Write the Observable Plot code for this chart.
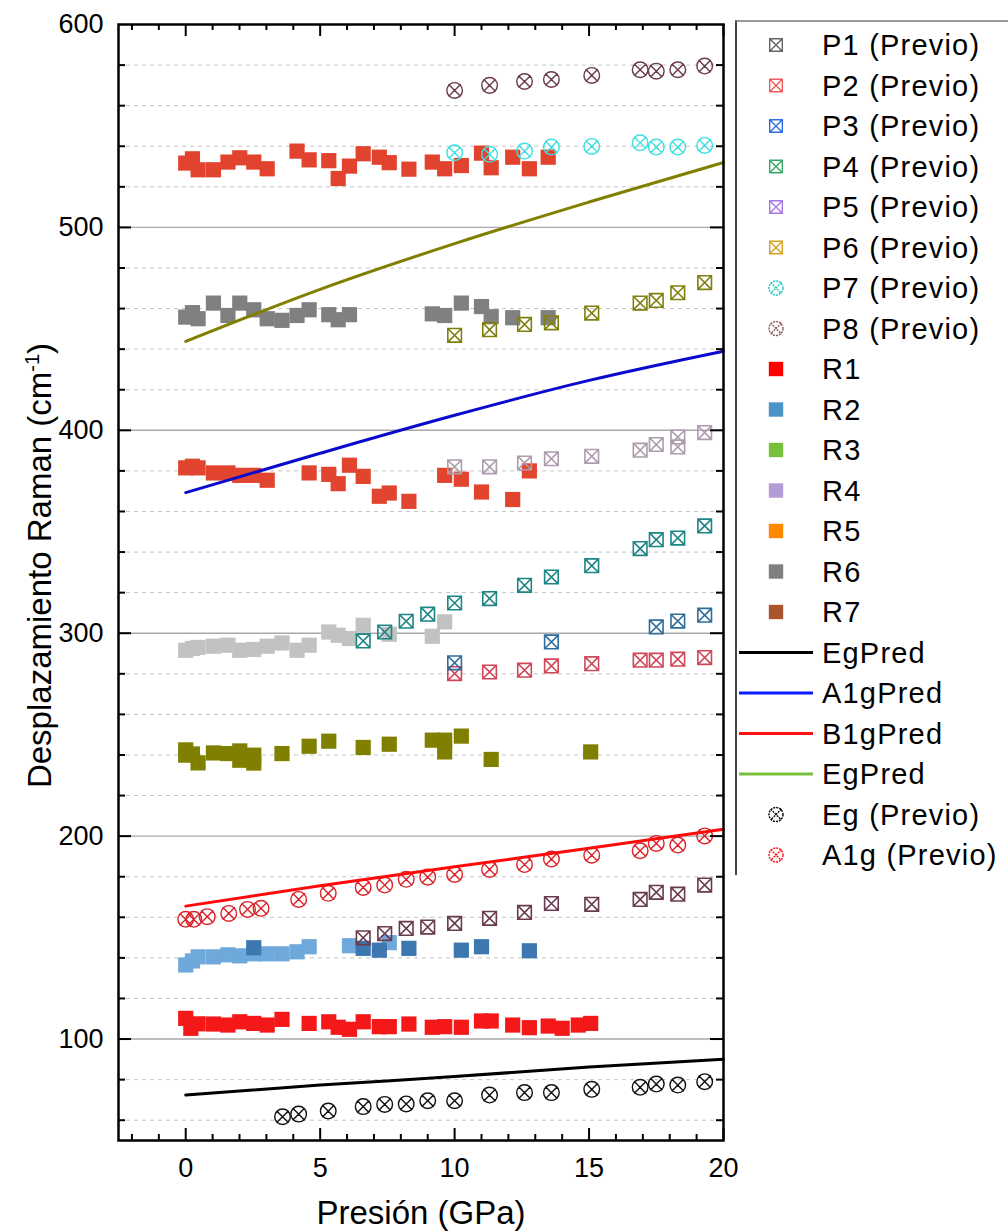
<!DOCTYPE html>
<html>
<head>
<meta charset="utf-8">
<script src="https://cdn.jsdelivr.net/npm/d3@7"></script>
<script src="https://cdn.jsdelivr.net/npm/@observablehq/plot@0.6"></script>
<style>
  body { margin: 0; background: #fff; }
  #chart { position: relative; width: 1008px; height: 1232px; background: #fff; }
</style>
</head>
<body>
<div id="chart"></div>
<script>
// ---------- axes ----------
const xDomain = [-2.5, 20];
const yDomain = [50, 600];
const xTickValues = [0, 5, 10, 15, 20];
const xMinorTicks = [-2, -1, 1, 2, 3, 4, 6, 7, 8, 9, 11, 12, 13, 14, 16, 17, 18, 19];
const yTickValues = [100, 200, 300, 400, 500, 600];
const yMajorGrid = [100, 200, 300, 400, 500];
const yMinorTicks = [60, 80, 120, 140, 160, 180, 220, 240, 260, 280, 320, 340, 360, 380, 420, 440, 460, 480, 520, 540, 560, 580];
const xTitle = "Presión (GPa)";
const yTitle = "Desplazamiento Raman (cm-1)";

// ---------- measured modes (filled squares) ----------
const r1P = [0, 0.19, 0.46, 1.03, 1.57, 2.01, 2.53, 3.03, 3.58, 4.59, 5.32, 5.67, 6.09, 6.6, 7.2, 7.57, 8.3, 9.17, 9.63, 10.25, 11.0, 11.36, 12.16, 12.78, 13.48, 14.0, 14.6, 15.06];
const r1V = [110.2, 105.3, 107.5, 107.4, 106.9, 108.5, 107.7, 106.9, 109.7, 107.7, 108.5, 105.8, 104.8, 108.5, 106.1, 106.1, 107.4, 105.8, 106.1, 105.8, 108.9, 108.9, 106.9, 105.6, 106.4, 105.3, 106.9, 107.7];

const r2P = [0, 0.25, 0.46, 1.03, 1.57, 2.01, 2.53, 3.03, 3.58, 4.14, 4.59, 6.09, 7.57];
const r2V = [136.5, 138.5, 140.5, 140.5, 141.5, 141, 142, 142, 142, 143, 145.5, 146, 147.5];

const r2bP = [2.53, 6.6, 7.2, 8.3, 10.25, 11.0, 12.78];
const r2bV = [145, 144.7, 143.8, 144.7, 143.8, 145.5, 143.5];

const r3P = [0, 0, 0.25, 0.46, 1.03, 1.57, 2.01, 2.01, 2.53, 2.53, 3.58, 4.59, 5.32, 6.6, 7.57, 9.17, 9.63, 9.63, 10.25, 11.36, 15.06];
const r3V = [239.9, 242.5, 240.5, 236.1, 241, 240.7, 237.4, 242, 239.9, 236, 240.7, 244.3, 246.8, 243.7, 245.3, 247.3, 247.3, 241.5, 249.3, 237.8, 241.5];

const r4P = [0, 0.25, 0.46, 1.03, 1.57, 2.01, 2.53, 3.03, 3.58, 4.14, 4.59, 5.32, 5.67, 6.09, 6.6, 7.57, 9.17, 9.63];
const r4V = [291.6, 292.5, 293, 293.6, 294.1, 291.6, 292, 293.6, 295.2, 291.6, 294.1, 300.6, 299, 297.4, 303.9, 299.5, 298.5, 305.6];

const r5P = [0, 0.25, 0.46, 1.03, 1.57, 2.01, 2.53, 3.03, 4.59, 5.32, 5.67, 6.09, 6.6, 7.2, 7.57, 8.3, 9.63, 10.25, 11.0, 12.16, 12.78];
const r5V = [381.5, 382.3, 381.5, 379, 379, 377.8, 377.8, 375.4, 379, 378.3, 373.7, 382.8, 377.3, 367.5, 369.1, 365, 377.8, 375.9, 369.6, 365.9, 380];

const r6P = [0, 0.25, 0.46, 1.03, 1.57, 2.01, 2.53, 3.03, 3.58, 4.14, 4.59, 5.32, 5.67, 6.09, 9.17, 9.63, 10.25, 11.0, 11.36, 12.16, 13.48];
const r6V = [455.8, 458, 455, 462.7, 456.6, 462.7, 459.4, 455, 454.2, 456.6, 459.4, 457, 454.5, 457, 457.4, 456.6, 462.7, 461, 456, 455.5, 455.5];

const r7P = [0, 0.25, 0.46, 1.03, 1.57, 2.01, 2.53, 3.03, 4.14, 4.59, 5.32, 5.67, 6.09, 6.6, 7.2, 7.57, 8.3, 9.17, 9.63, 10.25, 11.0, 11.36, 12.16, 12.78, 13.48];
const r7V = [531.7, 533.8, 528.4, 528.4, 532.2, 534.3, 532.2, 528.9, 537.6, 533.3, 532.9, 524.1, 530.2, 536.3, 534.6, 531.9, 528.7, 532.2, 528.9, 530.5, 536.6, 529.4, 534.6, 528.9, 534.6];

// ---------- literature modes (open symbols) ----------
const prevP = [10.0, 11.3, 12.6, 13.6, 15.1, 16.9, 17.5, 18.3, 19.3];
const prevLongP = [6.6, 7.4, 8.2, 9.0, 10.0, 11.3, 12.6, 13.6, 15.1, 16.9, 17.5, 18.3, 19.3];

const p1P = [10.0, 11.3, 12.6, 13.6, 15.1, 16.9, 17.5, 18.3, 18.3, 19.3];
const p1V = [382, 382, 383.9, 386, 387.2, 390.2, 393, 396.7, 391.8, 398.9];
const p2V = [280.1, 280.9, 281.8, 283.9, 285, 286.7, 286.7, 287.2, 288];
const p3P = [10.0, 13.6, 17.5, 18.3, 19.3];
const p3V = [285.4, 295.7, 303.1, 306, 308.9];
const p4V = [296.2, 300.6, 305.9, 309.4, 314.9, 317.1, 323.6, 327.7, 333.3, 341.7, 346.1, 346.9, 352.9];
const p5V = [149.9, 152, 154.5, 155.2, 157, 159.5, 162.4, 166.8, 166.4, 168.8, 172.3, 171.4, 175.9];
const p6V = [446.8, 449.6, 452.2, 453, 457.8, 462.7, 464, 467.8, 472.8];
const p7V = [536.8, 536, 537.6, 539.6, 539.9, 541.7, 539.6, 539.6, 540.4];
const p8V = [567.5, 570, 571.9, 572.9, 574.9, 577.7, 577, 577.7, 579.5];

const egP = [3.6, 4.2, 5.3, 6.6, 7.4, 8.2, 9.0, 10.0, 11.3, 12.6, 13.6, 15.1, 16.9, 17.5, 18.3, 19.3];
const egV = [61.7, 63, 64.5, 66.7, 67.8, 68, 69.6, 69.6, 72.4, 73.6, 73.6, 75.2, 76.2, 77.8, 77.3, 79];
const a1gP = [0, 0.3, 0.8, 1.6, 2.3, 2.8, 4.2, 5.3, 6.6, 7.4, 8.2, 9.0, 10.0, 11.3, 12.6, 13.6, 15.1, 16.9, 17.5, 18.3, 19.3];
const a1gV = [159, 159, 160.3, 161.9, 163.9, 164.4, 168.8, 171.8, 174.7, 175.9, 178.7, 179.8, 181.1, 183.6, 186, 188.7, 190.6, 192.8, 196.4, 195.6, 200.1];

// ---------- predicted curves ----------
const predP = [0, 5, 10, 15, 20];
const egPredV = [72.4, 77.3, 81.5, 86.2, 90];
const a1gPredV = [369.3, 388.7, 407.4, 424.6, 439];
const b1gPredV = [165.5, 175.5, 184.9, 194, 203.4];
const eg2PredV = [443.8, 469.5, 492, 512.5, 532];

// ---------- legend ----------
const legendLabels = ["P1 (Previo)", "P2 (Previo)", "P3 (Previo)", "P4 (Previo)", "P5 (Previo)", "P6 (Previo)", "P7 (Previo)", "P8 (Previo)",
  "R1", "R2", "R3", "R4", "R5", "R6", "R7", "EgPred", "A1gPred", "B1gPred", "EgPred", "Eg (Previo)", "A1g (Previo)"];
const legendKinds = ["box", "box", "box", "box", "box", "box", "circ", "circ",
  "sq", "sq", "sq", "sq", "sq", "sq", "sq", "line", "line", "line", "line", "circ", "circ"];
const legendColors = ["#666666", "#f25a5a", "#2f6fe6", "#3aa86a", "#a877e6", "#d2a022", "#18c6c6", "#8a5858",
  "#ff0000", "#4a94c8", "#79c03a", "#b49ad6", "#ff8a00", "#808080", "#a8552e", "#000000", "#0a1cff", "#ff1010", "#79c03a", "#000000", "#ff1010"];

// ---------- symbols ----------
const half = size => Math.sqrt(size / Math.PI);
const squareSym = { draw(ctx, size) { const h = half(size); ctx.rect(-h, -h, 2 * h, 2 * h); } };
const boxXSym = { draw(ctx, size) {
  const h = half(size);
  ctx.rect(-h, -h, 2 * h, 2 * h);
  ctx.moveTo(-h, -h); ctx.lineTo(h, h);
  ctx.moveTo(h, -h); ctx.lineTo(-h, h);
} };
const circleXSym = { draw(ctx, size) {
  const h = half(size), k = h * 0.78;
  ctx.moveTo(h, 0); ctx.arc(0, 0, h, 0, 2 * Math.PI);
  ctx.moveTo(-k, -k); ctx.lineTo(k, k);
  ctx.moveTo(k, -k); ctx.lineTo(-k, k);
} };

const rows = (ps, vs) => ps.map((p, i) => ({ p, v: vs[i] }));

const squares = (ps, vs, color) => Plot.dot(rows(ps, vs), { x: "p", y: "v", symbol: squareSym, r: 7.6, fill: color, stroke: "none" });
const boxes = (ps, vs, color) => Plot.dot(rows(ps, vs), { x: "p", y: "v", symbol: boxXSym, r: 6.8, fill: "none", stroke: color, strokeWidth: 1.6 });
const circles = (ps, vs, color) => Plot.dot(rows(ps, vs), { x: "p", y: "v", symbol: circleXSym, r: 7.8, fill: "none", stroke: color, strokeWidth: 1.4 });
const curve = (vs, color) => Plot.line(rows(predP, vs), { x: "p", y: "v", stroke: color, strokeWidth: 3, curve: "monotone-x" });

const mLeft = 118, mRight = 285, mTop = 24, mBottom = 92;
const W = 1008, H = 1232;
const frameW = W - mLeft - mRight, frameH = H - mTop - mBottom;

const fontFamily = "'Liberation Sans', Arial, Helvetica, sans-serif";

const chart = Plot.plot({
  width: W,
  height: H,
  marginLeft: mLeft,
  marginRight: mRight,
  marginTop: mTop,
  marginBottom: mBottom,
  x: { domain: xDomain },
  y: { domain: yDomain },
  style: { fontFamily, fontSize: "27px", color: "black", background: "white", overflow: "visible" },
  marks: [
    // grid
    Plot.ruleY(yMinorTicks, { stroke: "#c4c4c4", strokeWidth: 1, strokeDasharray: "4,4" }),
    Plot.ruleY(yMajorGrid, { stroke: "#a9a9a9", strokeWidth: 1.4 }),

    // measured modes
    squares(r1P, r1V, "#f41818"),
    squares(r2P, r2V, "#6fa8da"),
    squares(r2bP, r2bV, "#3d77af"),
    squares(r3P, r3V, "#808000"),
    squares(r4P, r4V, "#c2c2c2"),
    squares(r5P, r5V, "#e2452f"),
    squares(r6P, r6V, "#808080"),
    squares(r7P, r7V, "#e2432e"),

    // literature modes
    boxes(p1P, p1V, "#ac9cac"),
    boxes(prevP, p2V, "#d04858"),
    boxes(p3P, p3V, "#2f6e9c"),
    boxes(prevLongP, p4V, "#1d8585"),
    boxes(prevLongP, p5V, "#6a3a4e"),
    boxes(prevP, p6V, "#808010"),
    circles(prevP, p7V, "#3ee0e0"),
    circles(prevP, p8V, "#6a3a4e"),
    circles(egP, egV, "#111111"),
    circles(a1gP, a1gV, "#dc2228"),

    // predicted curves
    curve(egPredV, "#000000"),
    curve(a1gPredV, "#0a0acc"),
    curve(b1gPredV, "#ff0a0a"),
    curve(eg2PredV, "#808000"),

    // frame and inward ticks
    Plot.frame({ stroke: "black", strokeWidth: 2.5 }),
    Plot.tickX(xTickValues, { x: d => d, insetTop: frameH - 12, stroke: "black", strokeWidth: 2 }),
    Plot.tickX(xMinorTicks, { x: d => d, insetTop: frameH - 6, stroke: "black", strokeWidth: 2 }),
    Plot.tickX(xTickValues, { x: d => d, insetBottom: frameH - 12, stroke: "black", strokeWidth: 2 }),
    Plot.tickX(xMinorTicks, { x: d => d, insetBottom: frameH - 6, stroke: "black", strokeWidth: 2 }),
    Plot.tickY(yMajorGrid, { y: d => d, insetRight: frameW - 13, stroke: "black", strokeWidth: 2 }),
    Plot.tickY(yMinorTicks, { y: d => d, insetRight: frameW - 7, stroke: "black", strokeWidth: 2 }),
    Plot.tickY(yMajorGrid, { y: d => d, insetLeft: frameW - 13, stroke: "black", strokeWidth: 2 }),
    Plot.tickY(yMinorTicks, { y: d => d, insetLeft: frameW - 7, stroke: "black", strokeWidth: 2 }),

    // tick labels
    Plot.axisX(xTickValues, { anchor: "bottom", tickSize: 0, tickPadding: 17, label: null, fontSize: 27 }),
    Plot.axisY(yTickValues, { anchor: "left", tickSize: 0, tickPadding: 15, label: null, fontSize: 27 }),

    // axis titles
    Plot.text([xTitle], { frameAnchor: "bottom", textAnchor: "middle", lineAnchor: "middle", dy: 73, fontSize: 33, text: d => d }),
    Plot.text([yTitle], { frameAnchor: "left", textAnchor: "middle", lineAnchor: "middle", dx: -78, dy: -17, rotate: -90, fontSize: 33, text: d => d })
  ]
});

// superscript exponent in the y title
d3.select(chart).selectAll("text")
  .filter(function () { return this.textContent === yTitle; })
  .each(function () {
    const t = d3.select(this);
    t.text(null);
    t.append("tspan").text("Desplazamiento Raman (cm");
    t.append("tspan").attr("font-size", "20px").attr("dy", "-12").text("-1");
    t.append("tspan").attr("dy", "12").text(")");
  });

const container = document.getElementById("chart");
container.appendChild(chart);

// legend panel on the right
const legW = W - 735, legH = 855;
const leg = d3.create("svg")
  .attr("width", legW)
  .attr("height", legH)
  .style("position", "absolute")
  .style("left", "735px")
  .style("top", "20px")
  .style("font-family", fontFamily);

leg.append("line").attr("x1", 1).attr("x2", 1).attr("y1", 0).attr("y2", legH).attr("stroke", "#444").attr("stroke-width", 2);
leg.append("line").attr("x1", 0).attr("x2", legW).attr("y1", 1).attr("y2", 1).attr("stroke", "#777").attr("stroke-width", 1.5);

const symPath = (sym, r) => d3.symbol(sym, Math.PI * r * r)();

legendLabels.forEach((label, i) => {
  const cy = 25 + i * 40.5;
  const color = legendColors[i];
  const kind = legendKinds[i];
  const g = leg.append("g").attr("transform", `translate(0,${cy})`);
  if (kind === "line") {
    g.append("line").attr("x1", 4).attr("x2", 78).attr("y1", 0).attr("y2", 0).attr("stroke", color).attr("stroke-width", 3);
  } else if (kind === "sq") {
    g.append("path").attr("transform", "translate(41,0)").attr("d", symPath(squareSym, 7.2)).attr("fill", color);
  } else if (kind === "box") {
    g.append("path").attr("transform", "translate(41,0)").attr("d", symPath(boxXSym, 6.3)).attr("fill", "none").attr("stroke", color).attr("stroke-width", 1.4);
  } else {
    g.append("path").attr("transform", "translate(41,0)").attr("d", symPath(circleXSym, 7)).attr("fill", "none").attr("stroke", color).attr("stroke-width", 1.4).attr("stroke-dasharray", "2,1");
  }
  g.append("text").attr("x", 87).attr("y", 0).attr("dy", "0.35em")
    .attr("font-size", 29).attr("letter-spacing", "1.2px").attr("fill", "black").text(label);
});

container.appendChild(leg.node());
</script>
</body>
</html>
